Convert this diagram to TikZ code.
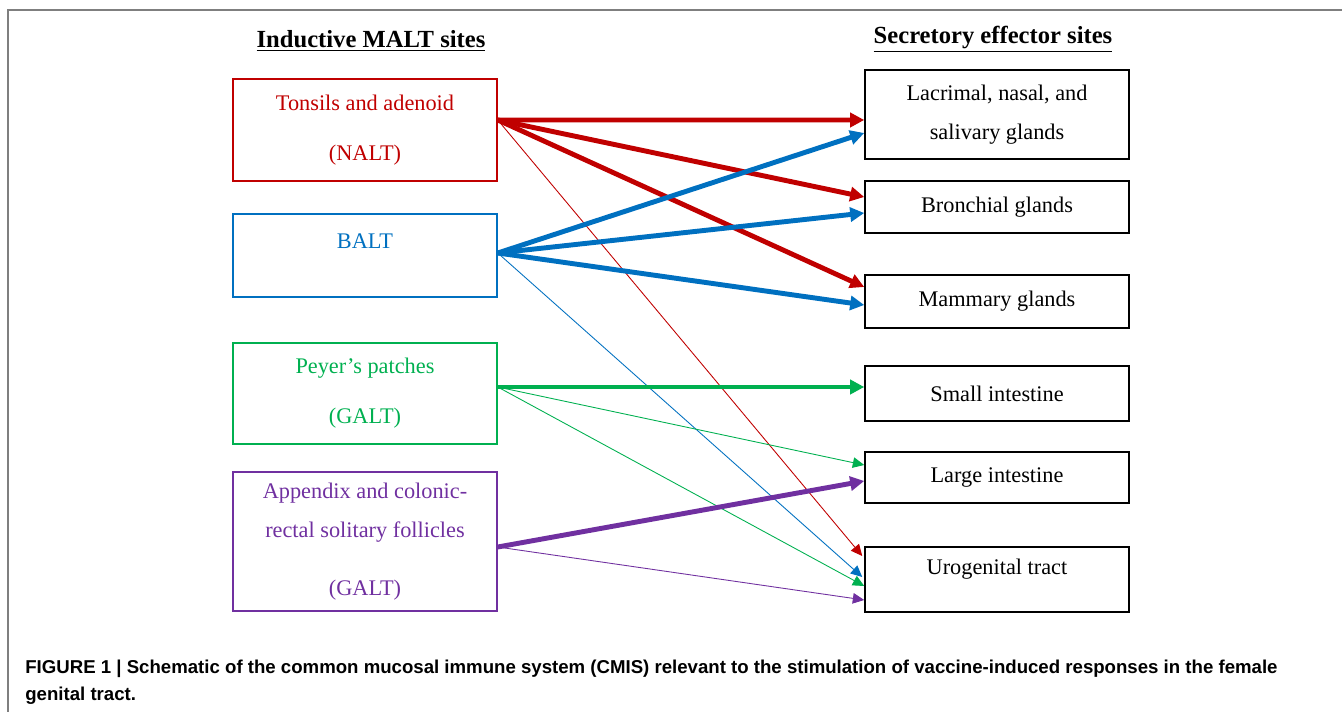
\documentclass[tikz,border=0pt]{standalone}
\usepackage{fontspec}
\setmainfont{Liberation Serif}
\newfontfamily\capfont{Liberation Sans}
\usetikzlibrary{calc,arrows.meta}
\definecolor{NaltRed}{HTML}{C00000}
\definecolor{BaltBlue}{HTML}{0070C0}
\definecolor{GaltGreen}{HTML}{00B050}
\definecolor{GaltPurple}{HTML}{7030A0}
\definecolor{FrameGray}{HTML}{7F7F7F}

\begin{document}
\begin{tikzpicture}[x=0.02cm,y=-0.02cm,
    site/.style={rectangle,draw,line width=0.9pt,minimum width=5.28cm,align=center,
      font=\fontsize{12.7}{22}\selectfont},
    head/.style={font=\fontsize{14}{16}\selectfont\bfseries},
    strong/.style={line width=2.8pt,-{Triangle[length=8pt,width=8pt]}},
    weak/.style={line width=0.5pt,-{Triangle[length=6.5pt,width=6pt]}}]
        \useasboundingbox (0,0) rectangle (1342,712);
        \draw[FrameGray,line width=1.1pt] (8,712) -- (8,10) -- (1342,10);
        \node[head] (indh) at (371,41) {\underline{Inductive MALT sites}};
        \node[head] (sech) at (993,39) {\underline{Secretory effector sites}};
        % inductive sites
        \node[site,draw=NaltRed,text=NaltRed,minimum height=2.04cm] (tons) at (365,130) {Tonsils and adenoid\\[6.4pt](NALT)};
        \node[site,draw=BaltBlue,text=BaltBlue,minimum height=1.66cm,text depth=16pt] (balt) at (365,255.5) {BALT};
        \node[site,draw=GaltGreen,text=GaltGreen,minimum height=2.02cm] (peyer) at (365,393.5) {Peyer's patches\\[6.4pt](GALT)};
        \node[site,draw=GaltPurple,text=GaltPurple,minimum height=2.78cm] (appx) at (365,541.5) {Appendix and colonic-\\rectal solitary follicles\\[11pt](GALT)};
        % effector sites
        \node[site,minimum height=1.78cm] (lacr) at (997,114.5) {Lacrimal, nasal, and\\salivary glands};
        \node[site,minimum height=1.04cm] (bron) at (997,207) {Bronchial glands};
        \node[site,minimum height=1.06cm] (mamm) at (997,301.5) {Mammary glands};
        \node[site,minimum height=1.1cm] (small) at (997,393.5) {Small intestine};
        \node[site,minimum height=1.02cm] (large) at (997,477.5) {Large intestine};
        \node[site,minimum height=1.3cm,text depth=15pt] (uro) at (997,579.5) {Urogenital tract};
        \coordinate (tonsout) at ($(tons.east)+(0,-10)$);
        \coordinate (baltout) at ($(balt.east)+(0,-2.5)$);
        \coordinate (peyerout) at ($(peyer.east)+(0,-6.5)$);
        \coordinate (appxout) at ($(appx.east)+(0,5.5)$);
        \draw[strong,NaltRed] (tonsout) -- ($(lacr.west)+(0,5.5)$);
        \draw[strong,NaltRed] (tonsout) -- ($(bron.west)+(0,-10)$);
        \draw[strong,NaltRed] (tonsout) -- ($(mamm.west)+(0,-14.5)$);
        \draw[weak,NaltRed] (tonsout) -- ($(uro.west)+(-2,-23.5)$);
        \draw[strong,BaltBlue] (baltout) -- ($(lacr.west)+(0,18.5)$);
        \draw[strong,BaltBlue] (baltout) -- ($(bron.west)+(0,6)$);
        \draw[strong,BaltBlue] (baltout) -- ($(mamm.west)+(0,3.5)$);
        \draw[weak,BaltBlue] (baltout) -- ($(uro.west)+(-2,-2.5)$);
        \draw[strong,GaltGreen] (peyerout) -- ($(small.west)+(0,-6.5)$);
        \draw[weak,GaltGreen] (peyerout) -- ($(large.west)+(0,-12.5)$);
        \draw[weak,GaltGreen] (peyerout) -- ($(uro.west)+(0,6.5)$);
        \draw[strong,GaltPurple] (appxout) -- ($(large.west)+(0,3.5)$);
        \draw[weak,GaltPurple] (appxout) -- ($(uro.west)+(0,20.5)$);
        % caption
        \node[anchor=north west,inner sep=0pt,align=left,font=\capfont\bfseries\fontsize{10.6}{15.3}\selectfont] (cap) at (25,660) {FIGURE 1 | Schematic of the common mucosal immune system (CMIS) relevant to the stimulation of vaccine-induced responses in the female\\genital tract.};
\end{tikzpicture}
\end{document}
